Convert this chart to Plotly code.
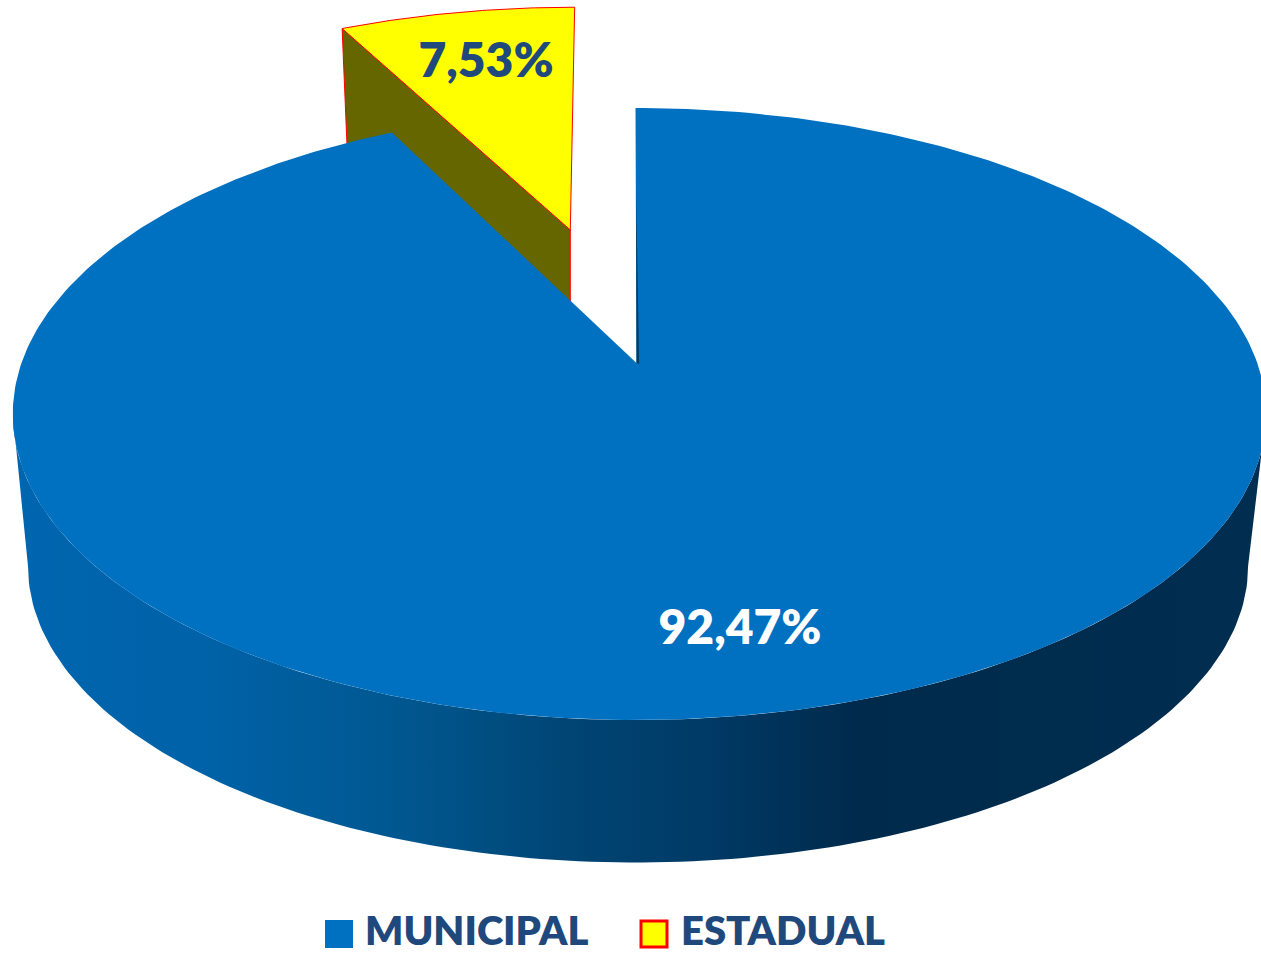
import numpy as np
import plotly.graph_objects as go

# ---- data ----
categories = ["MUNICIPAL", "ESTADUAL"]
values = [92.47, 7.53]
face_colors = ["#0070C0", "#FFFF00"]
wall_color_estadual = "#666600"
text_colors = ["#FFFFFF", "#1F497D"]

# ---- drawing geometry (pixel space of the page) ----
W, H = 1261, 954
CX, K = 635.5, 1 / 6
TOP = dict(cy=363.0, al=614.0, ar=621.8, b=297.5)
BOT = dict(cy=517.0, al=599.0, ar=604.0, b=288.0)
EXPLODE = 0.497
RIM_SHIFT_X = (-7.5, -3.5)
RIM_SHIFT_Y = -2.0


def project(u, v, plane):
    d = 1 + K * v
    a = np.where(np.asarray(u) < 0, plane["al"], plane["ar"])
    return CX + a * u / d, plane["cy"] - plane["b"] * v / d


def arc(t0, t1, plane, ou=0.0, ov=0.0, n=160):
    """Rim points between clockwise angles (radians from 12 o'clock)."""
    t = np.linspace(t0, t1, n)
    return project(ou + np.sin(t), ov + np.cos(t), plane)


shares = np.array(values) / sum(values)
end_blue = 2 * np.pi * shares[0]
start_y, end_y = end_blue, 2 * np.pi
mid_y = (start_y + end_y) / 2
ou, ov = EXPLODE * np.sin(mid_y), EXPLODE * np.cos(mid_y)


def poly(x, y, fill, line=None, lw=0.0, **kw):
    x, y = [float(p) for p in x], [float(p) for p in y]
    return go.Scatter(
        x=x + [x[0]], y=y + [y[0]], mode="lines", fill="toself",
        fillcolor=fill, line=dict(color=line or fill, width=lw),
        showlegend=False, hoverinfo="skip", **kw)


fig = go.Figure()

# ---- exploded ESTADUAL slice ----
ax_t, ay_t = project(ou, ov, TOP)
ax_t = ax_t + 1
ax_b, ay_b = project(ou, ov, BOT)
lx_t, ly_t = project(ou + np.sin(start_y), ov + np.cos(start_y), TOP)
lx_b, ly_b = project(ou + np.sin(start_y), ov + np.cos(start_y), BOT)
lx_t, ly_t = lx_t + RIM_SHIFT_X[0], ly_t + RIM_SHIFT_Y
lx_b = lx_b + RIM_SHIFT_X[0]
fig.add_trace(poly([lx_t, ax_t, ax_t, lx_b], [ly_t, ay_t, ay_b, ly_b],
                   wall_color_estadual, "#FF0000", 1.0))
xs, ys = arc(start_y, end_y, TOP, ou, ov, 60)
xs = xs + np.linspace(RIM_SHIFT_X[0], RIM_SHIFT_X[1], xs.size)
fig.add_trace(poly(np.r_[ax_t, xs], np.r_[ay_t, ys + RIM_SHIFT_Y],
                   face_colors[1], "#FF0000", 1.0, name=categories[1]))

# ---- MUNICIPAL outer wall with horizontal shading ----
lt = np.pi * 1.5 - np.arcsin(K)      # leftmost rim point
rt = np.pi * 0.5 + np.arcsin(K)      # rightmost rim point
xt, yt = arc(rt, lt, TOP)
xb, yb = arc(lt, rt, BOT)
fig.add_trace(go.Scatter(
    x=np.r_[xt, xb, xt[0]], y=np.r_[yt, yb, yt[0]], mode="lines", fill="toself",
    line=dict(width=0), hoverinfo="skip", showlegend=False,
    fillgradient=dict(type="horizontal", start=0, stop=W, colorscale=[
        [0.0, "#0066B0"], [0.16, "#0062A8"], [0.32, "#00578F"], [0.45, "#004574"],
        [0.56, "#003A66"], [0.68, "#002A4C"], [1.0, "#002E50"]])))

# ---- MUNICIPAL top face ----
xs, ys = arc(0, end_blue, TOP, n=360)
cx0, cy0 = project(0.0, 0.0, TOP)
cx0 = cx0 + 1
fig.add_trace(poly(np.r_[cx0, xs], np.r_[cy0, ys], face_colors[0], name=categories[0]))

# ---- MUNICIPAL inner wall seen at the gap ----
fig.add_trace(poly([cx0, cx0 + 2.6, cx0 - 0.4], [cy0, cy0 + 1, cy0 - 175], "#003A60"))

# ---- value labels ----
labels = [f"{v:.2f}%".replace(".", ",") for v in values]
label_x, label_y = [740, 486], [632, 65]
for i in range(2):
    fig.add_trace(go.Scatter(
        x=[label_x[i]], y=[label_y[i]], mode="text", text=[labels[i]], textposition="middle center",
        showlegend=False, hoverinfo="skip", cliponaxis=False,
        textfont=dict(family="Lato", size=48, weight=800, color=text_colors[i])))

# ---- legend row ----
swatch_x, text_x = [339, 654], [365, 681]
line_cols, line_w = [face_colors[0], "#FF0000"], [0, 3]
sizes = [28, 26]
for i in range(2):
    fig.add_trace(go.Scatter(
        x=[swatch_x[i]], y=[934], mode="markers", showlegend=False, hoverinfo="skip",
        marker=dict(symbol="square", size=sizes[i], color=face_colors[i],
                    line=dict(color=line_cols[i], width=line_w[i])), cliponaxis=False))
    fig.add_trace(go.Scatter(
        x=[text_x[i]], y=[934.5], mode="text", text=[categories[i]], textposition="middle right",
        showlegend=False, hoverinfo="skip", cliponaxis=False,
        textfont=dict(family="Lato", size=40, weight=800, color="#1F497D")))

fig.update_layout(
    width=W, height=H, margin=dict(l=0, r=0, t=0, b=0),
    paper_bgcolor="#FFFFFF", plot_bgcolor="#FFFFFF", showlegend=False,
    xaxis=dict(range=[0, W], visible=False, fixedrange=True),
    yaxis=dict(range=[H, 0], visible=False, fixedrange=True),
)
fig.write_html("out.html", config={"displayModeBar": False},
               post_script="document.body.style.margin='0';document.documentElement.style.overflow='hidden';")
